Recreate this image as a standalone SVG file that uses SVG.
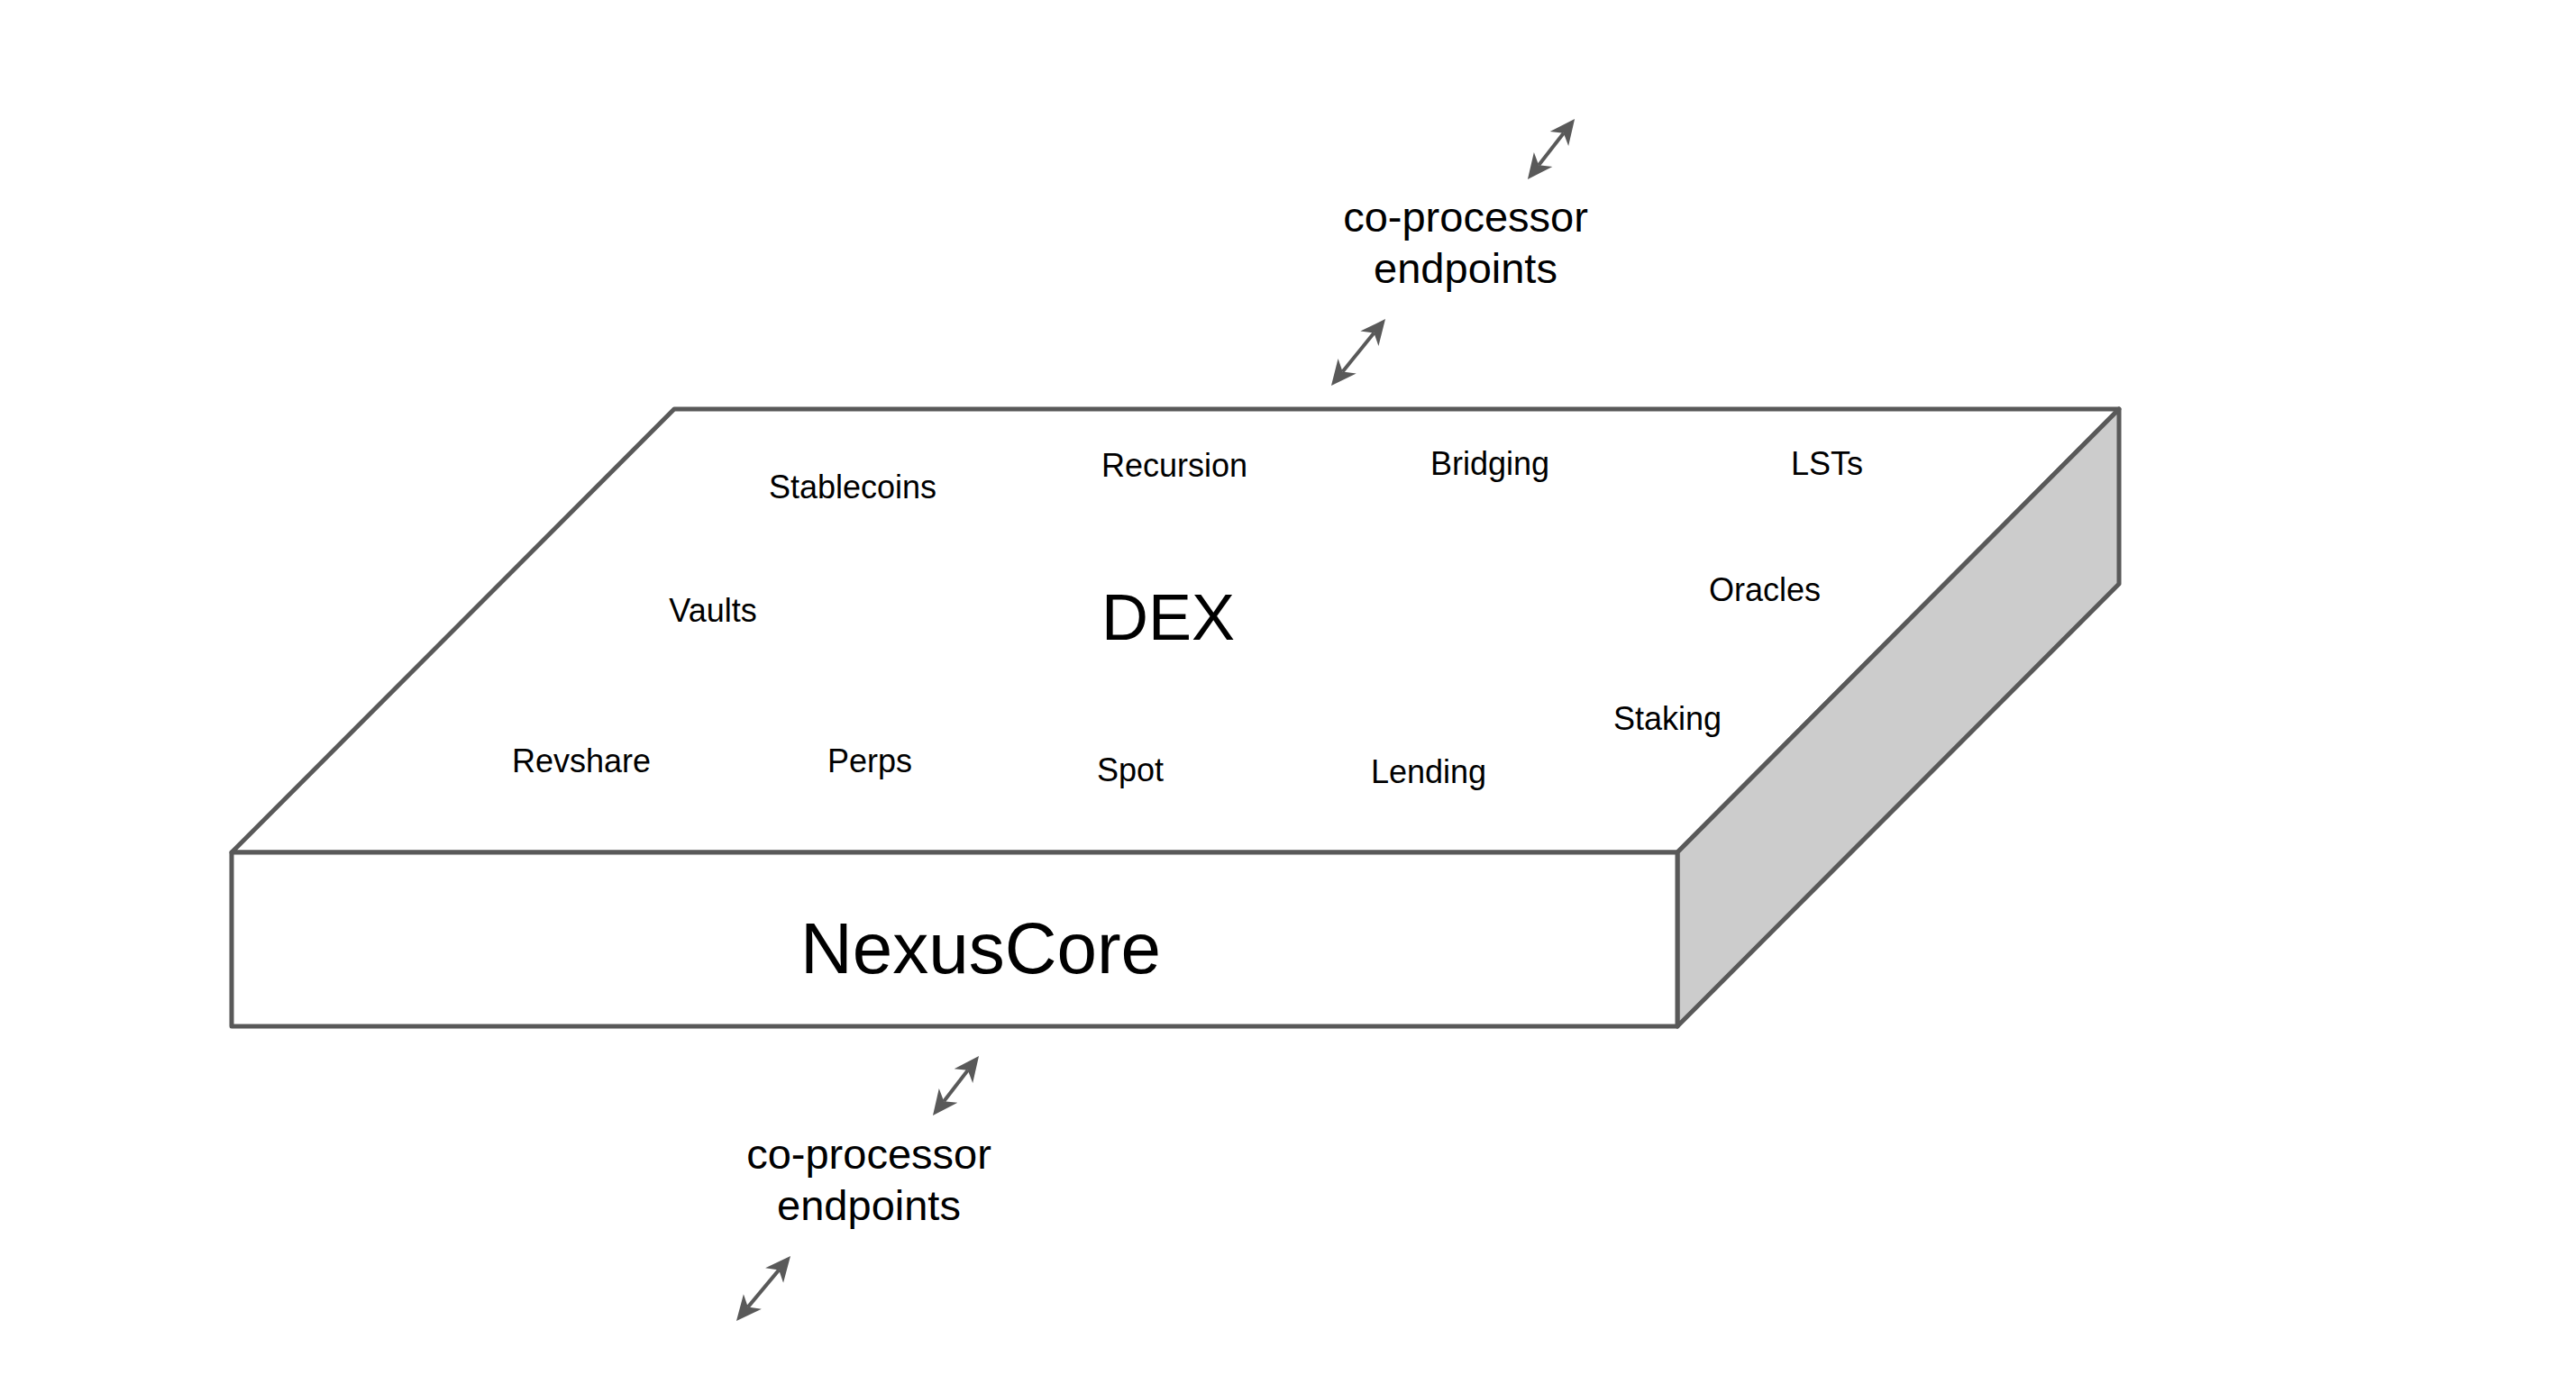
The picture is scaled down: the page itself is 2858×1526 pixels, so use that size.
<svg xmlns="http://www.w3.org/2000/svg" width="2858" height="1526" viewBox="0 0 2858 1526">
  <style>
    .face { fill: #ffffff; stroke: #595959; stroke-width: 5; stroke-linejoin: round; }
    .side { fill: #cccccc; stroke: #595959; stroke-width: 5; stroke-linejoin: round; }
    .lbl { font-family: "Liberation Sans", Arial, sans-serif; font-size: 36px; fill: #000000; text-anchor: middle; }
    .big { font-family: "Liberation Sans", Arial, sans-serif; font-size: 72px; fill: #000000; text-anchor: middle; }
    .core { font-family: "Liberation Sans", Arial, sans-serif; font-size: 80px; fill: #000000; text-anchor: middle; }
    .ep { font-family: "Liberation Sans", Arial, sans-serif; font-size: 47px; fill: #000000; text-anchor: middle; }
    .conn { fill: none; stroke: #595959; stroke-width: 4; marker-start: url(#ah); marker-end: url(#ah); }
  </style>
  <defs>
    <marker id="ah" markerUnits="userSpaceOnUse" markerWidth="32" markerHeight="30" viewBox="0 -15 32 30" refX="8" refY="0" orient="auto-start-reverse">
      <path d="M0,-13 L28,0 L0,13 L8,0 Z" fill="#595959"/>
    </marker>
  </defs>
  <rect width="2858" height="1526" fill="#ffffff"/>

  <g id="nexuscore-block">
    <polygon class="face" points="748,454 2351,454 1861,946 257,946"/>
    <polygon class="side" points="1861,946 2351,454 2351,648 1861,1139"/>
    <rect class="face" x="257" y="946" width="1604" height="193"/>
  </g>

  <g id="node-nexuscore"><text class="core" x="1088" y="1080">NexusCore</text></g>
  <g id="node-dex"><text class="big" x="1296" y="710">DEX</text></g>
  <g id="node-stablecoins"><text class="lbl" x="946" y="553">Stablecoins</text></g>
  <g id="node-recursion"><text class="lbl" x="1303" y="529">Recursion</text></g>
  <g id="node-bridging"><text class="lbl" x="1653" y="527">Bridging</text></g>
  <g id="node-lsts"><text class="lbl" x="2027" y="527">LSTs</text></g>
  <g id="node-vaults"><text class="lbl" x="791" y="690">Vaults</text></g>
  <g id="node-oracles"><text class="lbl" x="1958" y="667">Oracles</text></g>
  <g id="node-staking"><text class="lbl" x="1850" y="810">Staking</text></g>
  <g id="node-revshare"><text class="lbl" x="645" y="857">Revshare</text></g>
  <g id="node-perps"><text class="lbl" x="965" y="857">Perps</text></g>
  <g id="node-spot"><text class="lbl" x="1254" y="867">Spot</text></g>
  <g id="node-lending"><text class="lbl" x="1585" y="869">Lending</text></g>

  <g id="node-endpoints-top">
    <text class="ep" x="1626" y="257">co-processor</text>
    <text class="ep" x="1626" y="314">endpoints</text>
  </g>
  <g id="node-endpoints-bottom">
    <text class="ep" x="964" y="1297">co-processor</text>
    <text class="ep" x="964" y="1354">endpoints</text>
  </g>

  <g id="connectors">
    <path class="conn" d="M1707.2,183.2 L1734.8,147.8"/>
    <path class="conn" d="M1489.6,412.4 L1524.4,369.6"/>
    <path class="conn" d="M1047.2,1222.2 L1073.8,1187.8"/>
    <path class="conn" d="M829.8,1450.6 L864.2,1409.4"/>
  </g>
</svg>
